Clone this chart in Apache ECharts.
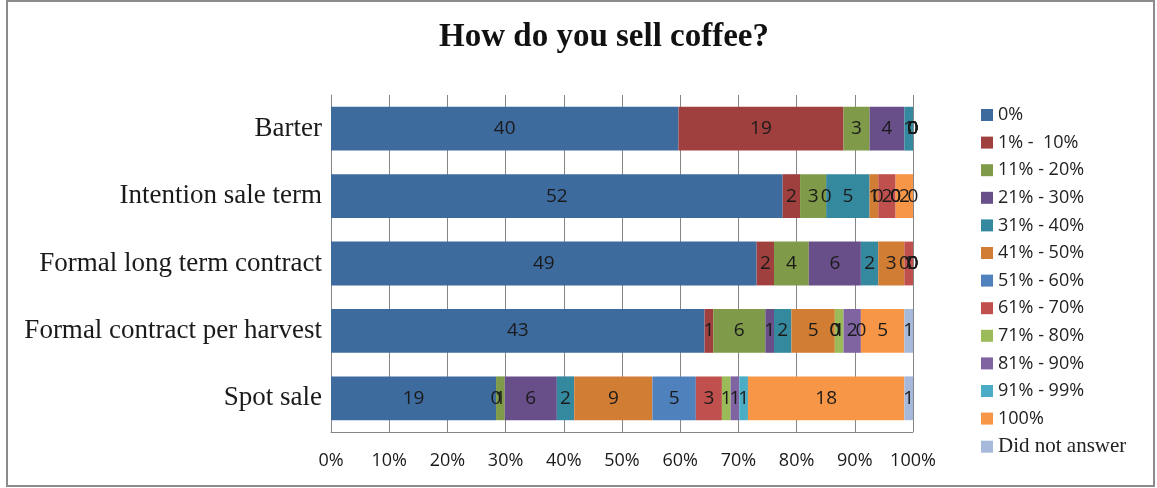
<!DOCTYPE html>
<html>
<head>
<meta charset="utf-8">
<title>How do you sell coffee?</title>
<script src="https://cdn.jsdelivr.net/npm/echarts@6/dist/echarts.min.js"></script>
<style>
  html, body { margin: 0; padding: 0; background: #fff; }
  #chart { width: 1157px; height: 488px; }
</style>
</head>
<body>
<div id="chart"></div>
<script>
// categories, top to bottom
const categories = ['Barter', 'Intention sale term', 'Formal long term contract', 'Formal contract per harvest', 'Spot sale'];
const seriesNames = ['0%', '1% -  10%', '11% - 20%', '21% - 30%', '31% - 40%', '41% - 50%', '51% - 60%',
  '61% - 70%', '71% - 80%', '81% - 90%', '91% - 99%', '100%', 'Did not answer'];
const colors = ['#3e6b9e', '#a0403e', '#7f9a48', '#694f8a', '#35899e', '#d27d34', '#4f81bd',
  '#c0504d', '#9bbb59', '#8064a2', '#4bacc6', '#f79646', '#a7b9da'];

// counts per series, one value per category
const s0     = [40, 52, 49, 43, 19];
const s1to10 = [19, 2, 2, 1, 0];
const s11    = [3, 3, 4, 6, 1];
const s21    = [4, 0, 6, 1, 6];
const s31    = [1, 5, 2, 2, 2];
const s41    = [0, 1, 3, 5, 9];
const s51    = [0, 0, 0, 0, 5];
const s61    = [0, 2, 1, 0, 3];
const s71    = [0, 0, 0, 1, 1];
const s81    = [0, 0, 0, 2, 1];
const s91    = [0, 0, 0, 0, 1];
const s100   = [0, 2, 0, 5, 18];
const sNone  = [0, 0, 0, 1, 1];

const xTicks = [0, 10, 20, 30, 40, 50, 60, 70, 80, 90, 100];

const allCounts = [s0, s1to10, s11, s21, s31, s41, s51, s61, s71, s81, s91, s100, sNone];

// totals per category, for the 100% stacking
const totals = categories.map((c, i) => allCounts.reduce((sum, arr) => sum + arr[i], 0));

const chart = echarts.init(document.getElementById('chart'));

const series = allCounts.map((arr, k) => ({
  name: seriesNames[k],
  type: 'bar',
  stack: 'total',
  barWidth: '65%',
  itemStyle: { color: colors[k] },
  label: {
    show: true,
    position: 'inside',
    color: '#1a1a1a',
    fontFamily: 'Open Sans',
    fontSize: 19,
    formatter: p => p.data.raw
  },
  emphasis: { disabled: true },
  data: arr.map((v, i) => ({ value: v / totals[i] * 100, raw: v }))
}));

const option = {
  backgroundColor: '#fff',
  animation: false,
  title: {
    text: 'How do you sell coffee?',
    left: 599,
    top: 16,
    textAlign: 'center',
    textStyle: { fontFamily: 'Liberation Serif', fontWeight: 'bold', fontSize: 33, color: '#111' }
  },
  legend: {
    orient: 'vertical',
    left: 976,
    top: 100,
    itemWidth: 12,
    itemHeight: 12,
    itemGap: 7.6,
    icon: 'rect',
    selectedMode: false,
    textStyle: {
      fontFamily: 'Open Sans', fontSize: 18, color: '#222', lineHeight: 20,
      rich: { s: { fontFamily: 'Liberation Serif', fontSize: 21, color: '#222', lineHeight: 20 } }
    },
    formatter: name => name === 'Did not answer' ? '{s|' + name + '}' : name,
    data: seriesNames
  },
  grid: { left: 331, right: 244, top: 95, bottom: 56, containLabel: false },
  xAxis: {
    type: 'value',
    min: xTicks[0],
    max: xTicks[xTicks.length - 1],
    interval: 10,
    axisLine: { show: true, lineStyle: { color: '#868686' } },
    axisTick: { show: false },
    splitLine: { show: true, lineStyle: { color: '#868686', width: 1 } },
    axisLabel: { formatter: '{value}%', fontFamily: 'Open Sans', fontSize: 18, color: '#1a1a1a', margin: 20 }
  },
  yAxis: {
    type: 'category',
    data: categories,
    inverse: true,
    axisLine: { show: true, lineStyle: { color: '#868686' } },
    axisTick: { show: false },
    axisLabel: { fontFamily: 'Liberation Serif', fontSize: 27, color: '#1a1a1a', margin: 9 }
  },
  graphic: [{
    type: 'rect',
    shape: { x: 7, y: 1, width: 1147, height: 485 },
    style: { fill: 'none', stroke: '#8c8c8c', lineWidth: 2 },
    silent: true
  }],
  series: series
};

chart.setOption(option);
window.addEventListener('resize', () => chart.resize());
</script>
</body>
</html>
